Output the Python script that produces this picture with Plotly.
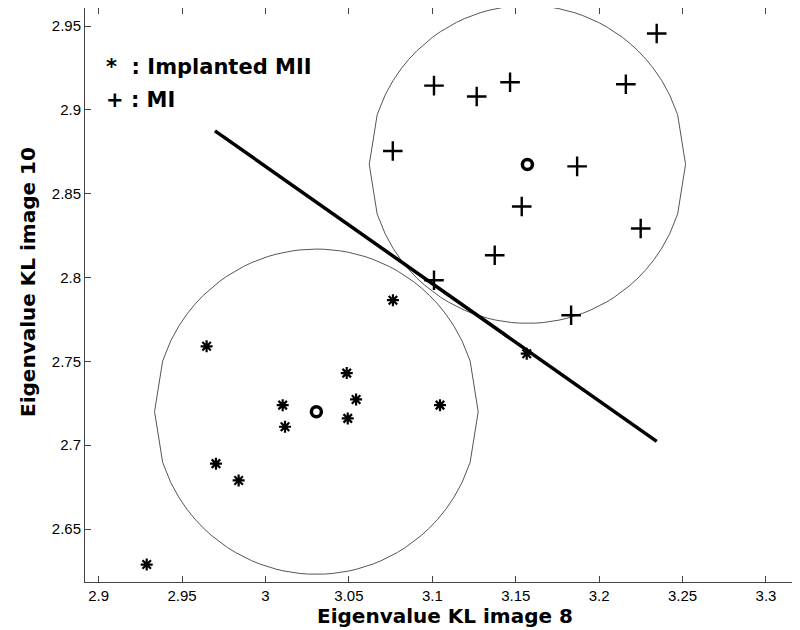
import numpy as np
import plotly.graph_objects as go

# ---- data ----
mi_x = [3.2345, 3.101, 3.1266, 3.1466, 3.216, 3.0763, 3.1868, 3.1536, 3.2249, 3.1374, 3.101, 3.1832]
mi_y = [2.9456, 2.9145, 2.908, 2.9165, 2.9153, 2.8755, 2.8663, 2.8424, 2.8293, 2.8133, 2.7984, 2.7775]

mii_x = [2.9647, 3.0487, 3.0103, 3.0543, 3.0117, 3.0493, 2.9703, 2.9839, 2.9288, 3.0764, 3.1046, 3.1566]
mii_y = [2.759, 2.743, 2.7239, 2.7273, 2.711, 2.716, 2.689, 2.679, 2.6288, 2.7865, 2.7239, 2.7546]

center_x = [3.0305, 3.157]
center_y = [2.7200, 2.8675]
radius = [0.0970, 0.0948]

sep_x = [2.9697, 3.2345]
sep_y = [2.8875, 2.7023]

x_ticks = [2.9, 2.95, 3.0, 3.05, 3.1, 3.15, 3.2, 3.25, 3.3]
x_labels = ["2.9", "2.95", "3", "3.05", "3.1", "3.15", "3.2", "3.25", "3.3"]
y_ticks = [2.65, 2.7, 2.75, 2.8, 2.85, 2.9, 2.95]
y_labels = ["2.65", "2.7", "2.75", "2.8", "2.85", "2.9", "2.95"]

x_range = [2.8918, 3.3204]
y_range = [2.6184, 2.9608]

# page has an 8px body margin; figure is sized to fit the 800x630 window
FIG_W, FIG_H = 792, 622
ML, MR, MT, MB = 77, 0, 0, 48
PW, PH = FIG_W - ML - MR, FIG_H - MT - MB

fig = go.Figure()

# circles: upper and lower halves sampled on an even x grid (like the original)
u = np.linspace(-1, 1, 41)
for cx, cy, r in zip(center_x, center_y, radius):
    xs = np.concatenate([cx + r * u, cx + r * u[::-1]])
    half = r * np.sqrt(np.clip(1 - u ** 2, 0, None))
    ys = np.concatenate([cy + half, cy - half[::-1]])
    fig.add_trace(go.Scatter(
        x=xs, y=ys, mode="lines", line=dict(color="#555555", width=1),
        hoverinfo="skip", showlegend=False))

# separating line
fig.add_trace(go.Scatter(x=sep_x, y=sep_y, mode="lines",
                         line=dict(color="black", width=3.5), showlegend=False))

# MI points (+)
fig.add_trace(go.Scatter(x=mi_x, y=mi_y, mode="markers",
                         marker=dict(symbol="cross-thin-open", size=14, color="black",
                                     line=dict(color="black", width=2.4)),
                         showlegend=False))

# Implanted MII points (*)
fig.add_trace(go.Scatter(x=mii_x, y=mii_y, mode="markers",
                         marker=dict(symbol="asterisk-open", size=10, color="black",
                                     line=dict(color="black", width=2.2)),
                         showlegend=False))

# centres (o)
fig.add_trace(go.Scatter(x=center_x, y=center_y, mode="markers",
                         marker=dict(symbol="circle-open", size=10, color="black",
                                     line=dict(color="black", width=3.5)),
                         showlegend=False))

# legend text
fig.add_annotation(x=2.9030, y=2.9255, xref="x", yref="y", xanchor="left", yanchor="middle",
                   text="<b>*  : Implanted MII</b>", showarrow=False,
                   font=dict(family="DejaVu Sans", size=21, color="black"))
fig.add_annotation(x=2.9030, y=2.9062, xref="x", yref="y", xanchor="left", yanchor="middle",
                   text="<b>+ : MI</b>", showarrow=False,
                   font=dict(family="DejaVu Sans", size=21, color="black"))

# axis titles (positions given in page pixels, converted to plot-area fractions)
def px_to_paper(px, py):
    fx = (px - 8 - ML) / PW
    fy = (FIG_H - MB - (py - 8)) / PH
    return fx, fy

tx, ty = px_to_paper(445, 616)
fig.add_annotation(x=tx, y=ty, xref="paper", yref="paper", showarrow=False,
                   text="<b>Eigenvalue KL image 8</b>", xanchor="center", yanchor="middle",
                   font=dict(family="DejaVu Sans", size=20, color="black"))
tx, ty = px_to_paper(28, 282)
fig.add_annotation(x=tx, y=ty, xref="paper", yref="paper", showarrow=False,
                   text="<b>Eigenvalue KL image 10</b>", textangle=-90,
                   xanchor="center", yanchor="middle",
                   font=dict(family="DejaVu Sans", size=20, color="black"))

axis_common = dict(showline=True, linecolor="#444444", linewidth=1, mirror="ticks",
                   ticks="inside", ticklen=6, tickcolor="#444444", showgrid=False,
                   zeroline=False, automargin=False,
                   tickfont=dict(family="Liberation Sans", size=15, color="black"))

fig.update_xaxes(range=x_range, tickvals=x_ticks, ticktext=x_labels, **axis_common)
fig.update_yaxes(range=y_range, tickvals=y_ticks, ticktext=y_labels, **axis_common)

fig.update_layout(width=FIG_W, height=FIG_H,
                  margin=dict(l=ML, r=MR, t=MT, b=MB),
                  plot_bgcolor="white", paper_bgcolor="white")

fig.write_html("out.html")
